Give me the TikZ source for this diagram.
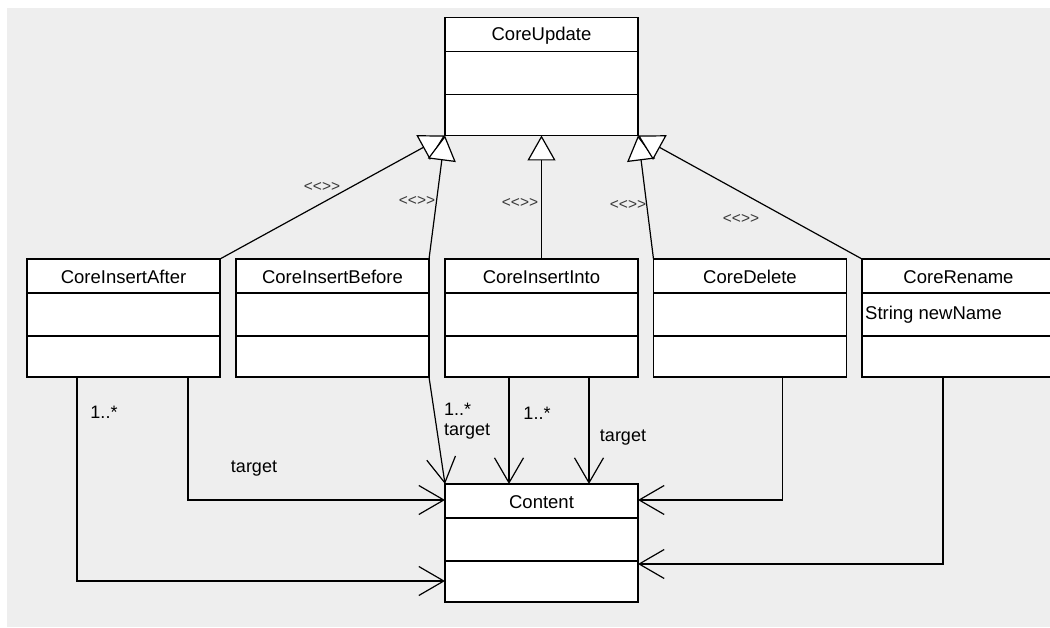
\documentclass[tikz,border=0pt]{standalone}
\usepackage{fontspec}
\setmainfont{Liberation Sans}
\newfontfamily\stereofont{Liberation Sans}
\usepackage{tikz}
\usetikzlibrary{arrows.meta}
\definecolor{Canvas}{HTML}{EEEEEE}
\definecolor{Stereo}{HTML}{3A3A3A}

% class box with title, attribute and operation compartments
\newcommand{\umlclass}[3]{%
  \node[classbox] (#1) at (#2) {};
  \draw[divider] ([yshift=-34pt]#1.north west) -- ([yshift=-34pt]#1.north east);
  \draw[divider] ([yshift=-77pt]#1.north west) -- ([yshift=-77pt]#1.north east);
  \node[classname] (#1-name) at ([yshift=-18pt]#1.north) {#3};
}
\newcommand{\emptystereo}{<\kern0pt<\kern0pt>\kern0pt>}

\begin{document}
\begin{tikzpicture}[x=1pt,y=-1pt,
  classbox/.style={draw,fill=white,line width=1.3pt,minimum width=193pt,minimum height=118pt,inner sep=0pt,outer sep=0pt},
  divider/.style={line width=1.3pt},
  classname/.style={font=\fontsize{18.5}{21}\selectfont,inner sep=1pt},
  attrtext/.style={font=\fontsize{18.5}{21}\selectfont,inner sep=1pt,anchor=west},
  stereo/.style={font=\stereofont\fontsize{15.5}{18}\selectfont,text=Stereo,inner sep=1pt},
  role/.style={font=\fontsize{18}{21}\selectfont,inner sep=1pt},
  gen/.style={line width=1.2pt,-{Triangle[open,fill=white,length=25pt,width=28pt]}},
  assoc/.style={line width=1.2pt,-{Straight Barb[length=25pt,width=29pt]}}]
  \useasboundingbox (0,0) rectangle (1050,628);
  \fill[Canvas] (7,8) rectangle (1050,627);

  \umlclass{update}{541.5,76.5}{CoreUpdate}
  \umlclass{after}{123.5,318}{CoreInsertAfter}
  \umlclass{before}{332.5,318}{CoreInsertBefore}
  \umlclass{into}{541.5,318}{CoreInsertInto}
  \umlclass{delete}{750,318}{CoreDelete}
  \umlclass{rename}{958.5,318}{CoreRename}
  \umlclass{content}{541.5,543}{Content}
  \node[attrtext] (rename-attr) at ([xshift=2pt,yshift=-56pt]rename.north west) {String newName};

  % generalizations
  \draw[gen] (after.north east) -- (update.south west);
  \draw[gen] (before.north east) -- (update.south west);
  \draw[gen] (into.north) -- (update.south);
  \draw[gen] (delete.north west) -- (update.south east);
  \draw[gen] (rename.north west) -- (update.south east);
  \node[stereo] (st-after) at (322,187) {\emptystereo};
  \node[stereo] (st-before) at (417,201) {\emptystereo};
  \node[stereo] (st-into) at (520,203) {\emptystereo};
  \node[stereo] (st-delete) at (628,205) {\emptystereo};
  \node[stereo] (st-rename) at (741,219) {\emptystereo};

  % associations to Content
  \draw[assoc] ([xshift=50pt]after.south west) |- ([yshift=-38pt]content.west);
  \draw[assoc] ([xshift=161pt]after.south west) |- ([yshift=43pt]content.west);
  \draw[assoc] (before.south east) -- (content.north west);
  \draw[assoc] ([xshift=64pt]into.south west) -- ([xshift=64pt]content.north west);
  \draw[assoc] ([xshift=144pt]into.south west) -- ([xshift=144pt]content.north west);
  \draw[assoc] ([xshift=129pt]delete.south west) |- ([yshift=43pt]content.east);
  \draw[assoc] ([xshift=81pt]rename.south west) |- ([yshift=-21pt]content.east);
  \node[role] (m-after) at (104,412) {1..*};
  \node[role] (r-after) at (254,469) {target};
  \node[role,anchor=west] (m-before) at (443,409) {1..*};
  \node[role,anchor=west] (r-before) at (443,432) {target};
  \node[role] (m-into) at (537,413) {1..*};
  \node[role] (r-into) at (623,438) {target};
\end{tikzpicture}
\end{document}
